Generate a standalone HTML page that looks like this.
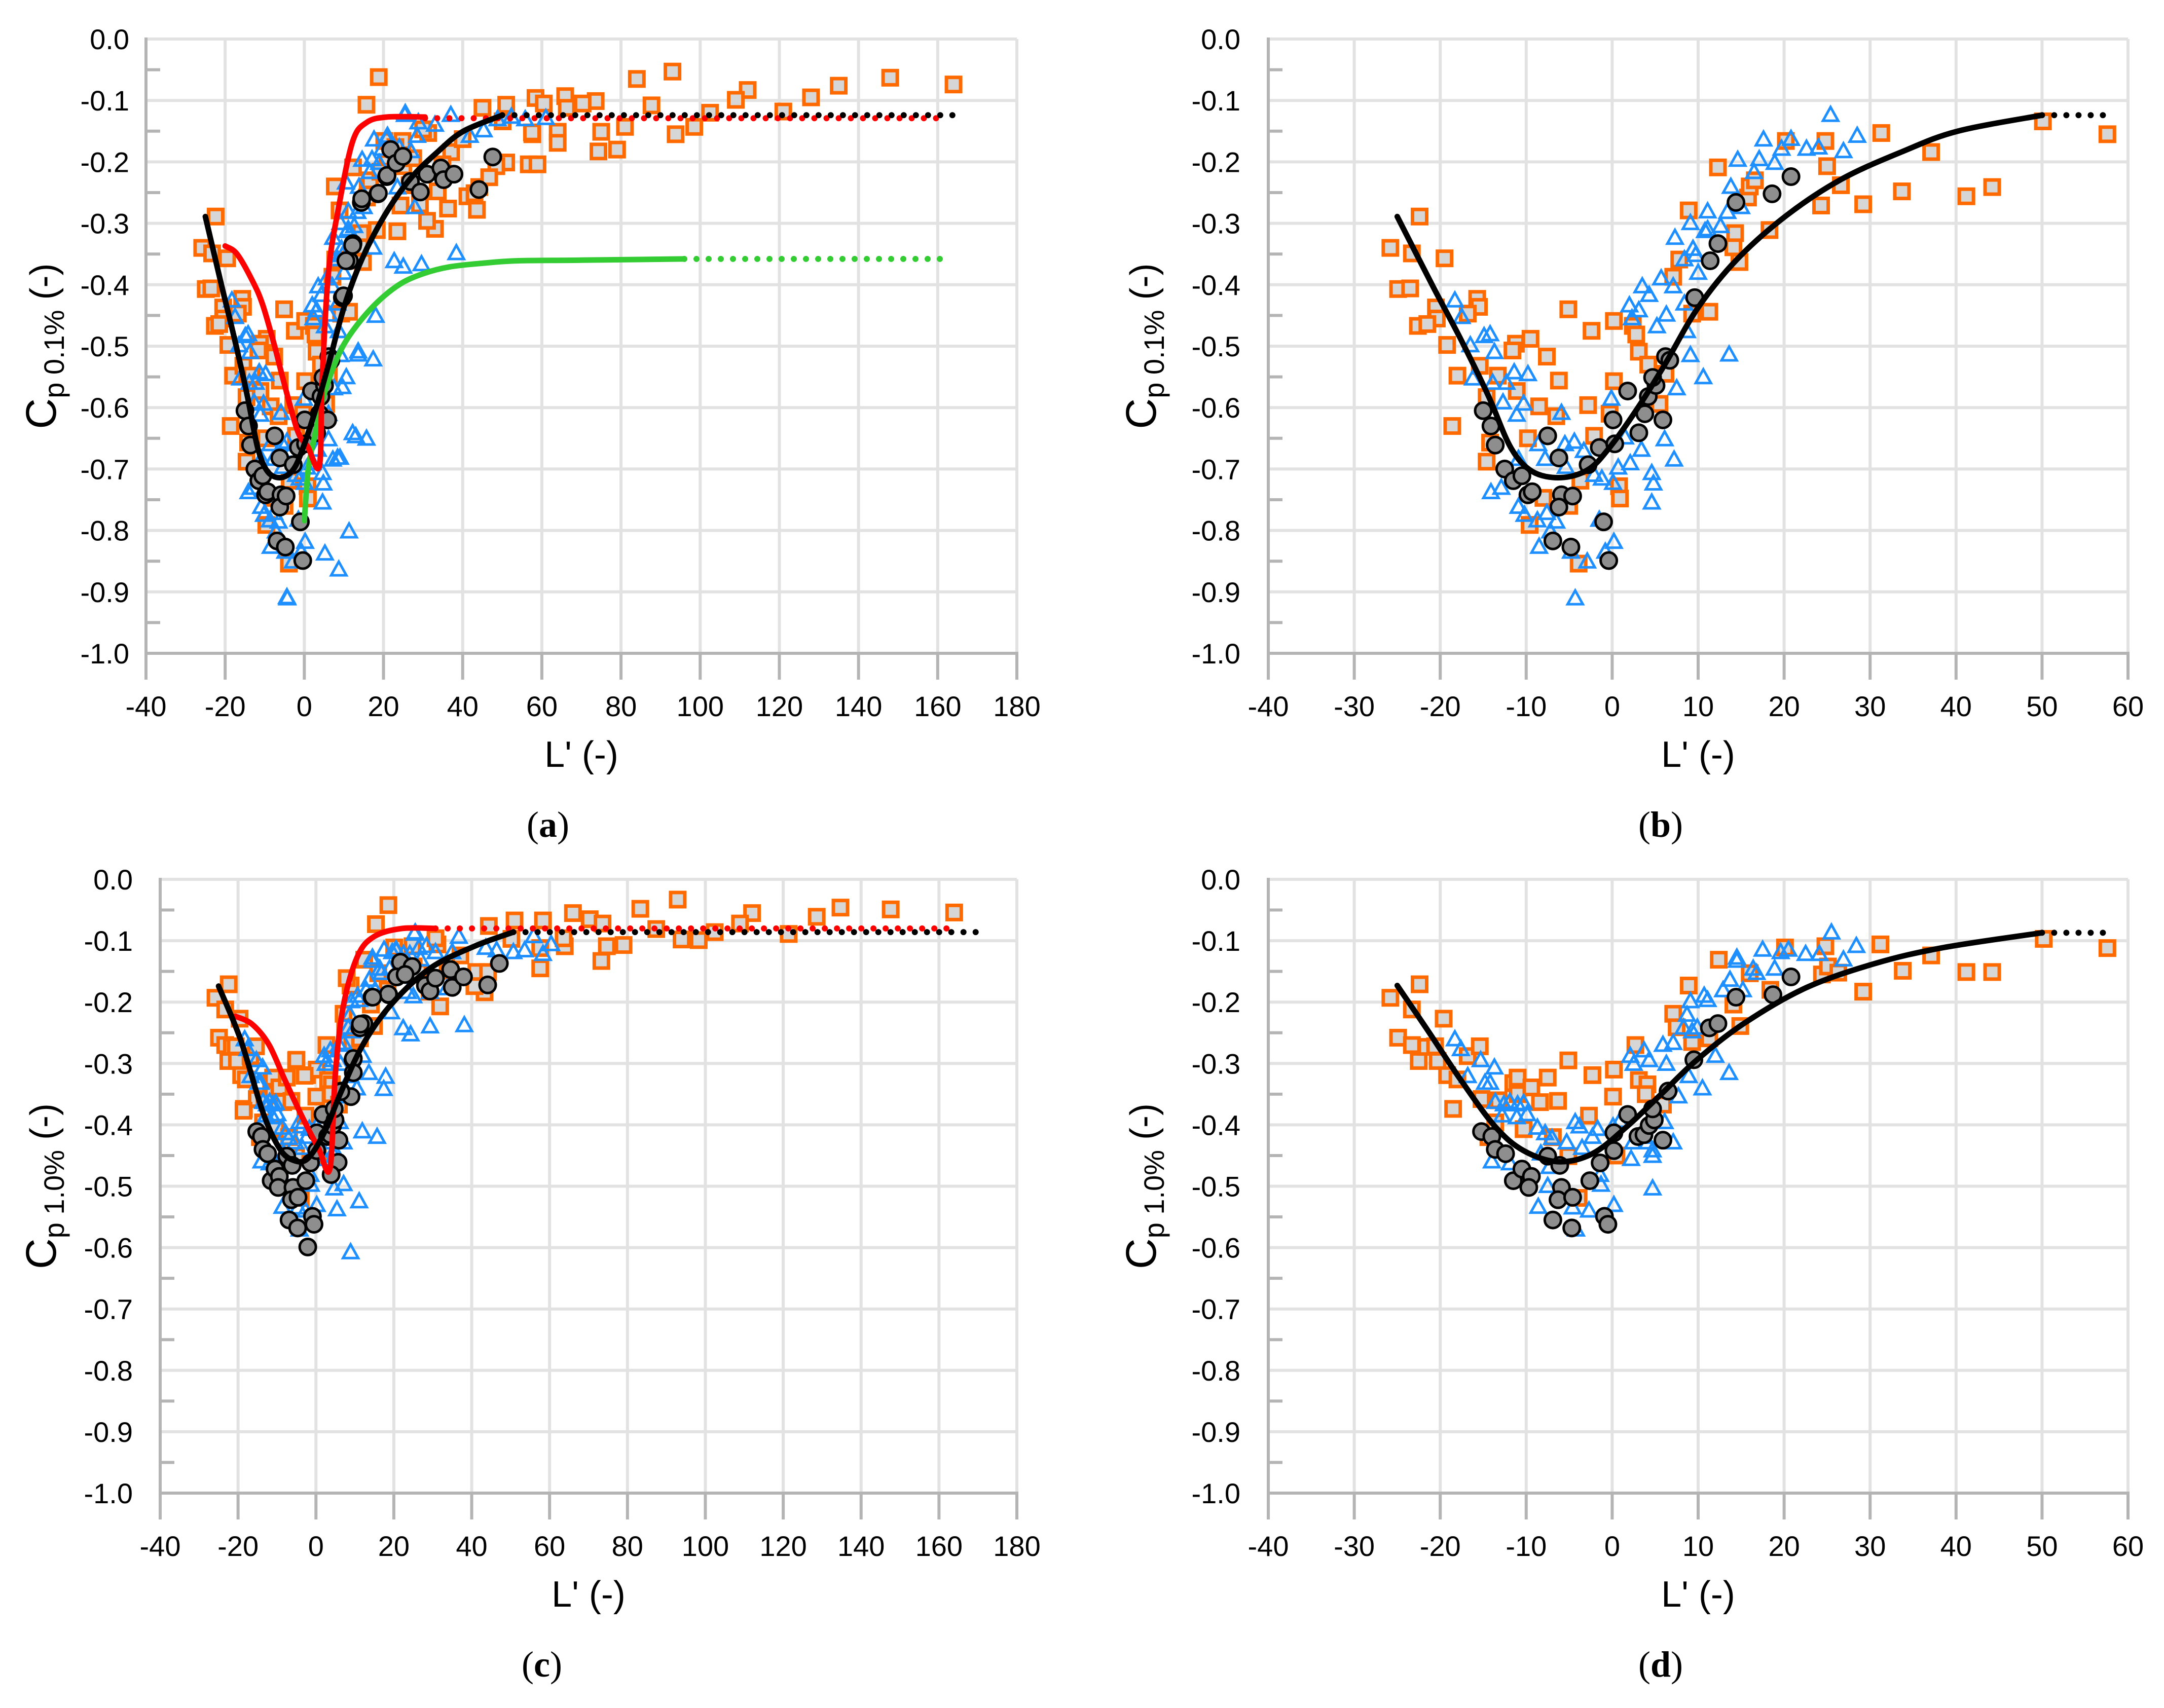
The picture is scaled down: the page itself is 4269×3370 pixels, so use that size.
<!DOCTYPE html>
<html><head><meta charset="utf-8"><title>Cp vs L' charts</title>
<style>
html,body{margin:0;padding:0;background:#fff;}
svg{display:block;}
text{fill:#000;}
</style></head>
<body>
<svg id="fig" xmlns="http://www.w3.org/2000/svg" width="4269" height="3370" viewBox="0 0 4269 3370"></svg>
<script>
// ---------- tick labels ----------
const yTickVals = [0,-0.1,-0.2,-0.3,-0.4,-0.5,-0.6,-0.7,-0.8,-0.9,-1.0];
const yTickLabels = ["0.0","-0.1","-0.2","-0.3","-0.4","-0.5","-0.6","-0.7","-0.8","-0.9","-1.0"];
const xTickValsWide = [-40,-20,0,20,40,60,80,100,120,140,160,180];
const xTickLabelsWide = ["-40","-20","0","20","40","60","80","100","120","140","160","180"];
const xTickValsNarrow = [-40,-30,-20,-10,0,10,20,30,40,50,60];
const xTickLabelsNarrow = ["-40","-30","-20","-10","0","10","20","30","40","50","60"];

// ---------- panel (b) data: Cp 0.1% ----------
const bSqX = [-22.4,-25.8,-23.3,-19.5,-24.9,-23.5,-15.7,-15.5,-20.5,-16.8,-20.4,-22.6,-21.5,-5.1,-19.2,-9.5,-11.2,-11.6,-7.6,-2.4,0.2,2.4,2.8,3.1,4.2,6.2,-18.0,-15.4,-13.3,-6.2,0.2,-11.1,-14.6,-8.5,-6.5,-2.8,-0.3,5.5,-18.6,-14.2,-14.6,-9.8,-2.1,-3.7,0.8,0.9,-5.0,-9.6,-3.9,-8.0,8.9,12.3,7.8,7.1,9.3,11.3,14.3,14.1,14.8,15.8,16.0,16.6,18.3,20.2,24.8,25.0,26.6,24.3,29.2,31.3,33.7,37.1,41.2,44.2,50.1,57.6];
const bSqY = [-0.289,-0.340,-0.349,-0.357,-0.407,-0.406,-0.423,-0.436,-0.437,-0.447,-0.455,-0.467,-0.464,-0.440,-0.498,-0.488,-0.496,-0.507,-0.517,-0.475,-0.459,-0.467,-0.481,-0.509,-0.530,-0.545,-0.548,-0.532,-0.548,-0.556,-0.557,-0.573,-0.583,-0.598,-0.614,-0.596,-0.610,-0.594,-0.630,-0.657,-0.688,-0.650,-0.646,-0.719,-0.728,-0.748,-0.760,-0.791,-0.854,-0.747,-0.279,-0.209,-0.359,-0.387,-0.447,-0.444,-0.316,-0.339,-0.363,-0.258,-0.240,-0.230,-0.311,-0.166,-0.166,-0.207,-0.238,-0.271,-0.269,-0.153,-0.248,-0.184,-0.256,-0.241,-0.134,-0.155];
const bTriX = [-18.3,-17.5,-14.9,-14.2,-16.5,-13.7,-16.2,-13.9,-12.3,-11.4,-9.8,-12.7,-11.1,-10.3,-5.9,-8.6,-5.5,-4.4,-3.3,-10.9,-7.8,-5.4,-14.1,-12.9,-10.9,-10.2,-8.7,-7.6,-6.5,-7.2,-8.5,-4.8,-2.9,-0.8,0.2,-1.5,-4.3,-2.1,-1.2,0.1,0.7,2.1,1.5,3.4,4.6,4.8,4.6,7.2,6.1,-0.1,2.0,3.1,2.3,5.2,6.3,3.5,4.3,5.7,7.1,8.4,8.7,9.1,10.6,13.6,7.5,7.3,9.4,9.7,8.4,10.0,9.1,11.1,11.1,10.8,12.6,13.8,13.4,15.0,14.6,16.5,17.1,18.9,17.6,19.7,20.8,22.6,24.0,25.4,26.9,28.5];
const bTriY = [-0.426,-0.453,-0.484,-0.481,-0.499,-0.510,-0.553,-0.560,-0.560,-0.543,-0.546,-0.592,-0.612,-0.594,-0.609,-0.660,-0.660,-0.656,-0.671,-0.684,-0.684,-0.697,-0.738,-0.731,-0.762,-0.775,-0.784,-0.772,-0.786,-0.802,-0.827,-0.835,-0.851,-0.835,-0.819,-0.783,-0.911,-0.710,-0.716,-0.723,-0.698,-0.691,-0.649,-0.669,-0.707,-0.724,-0.755,-0.685,-0.652,-0.586,-0.434,-0.442,-0.455,-0.468,-0.449,-0.403,-0.417,-0.390,-0.403,-0.431,-0.476,-0.515,-0.551,-0.514,-0.569,-0.324,-0.342,-0.352,-0.359,-0.381,-0.300,-0.281,-0.310,-0.313,-0.305,-0.241,-0.282,-0.274,-0.197,-0.217,-0.196,-0.202,-0.164,-0.179,-0.163,-0.179,-0.177,-0.124,-0.183,-0.158];
const bCirX = [-15.0,-14.1,-13.6,-12.5,-11.5,-10.5,-9.8,-9.3,-7.5,-6.2,-5.9,-6.2,-4.6,-6.9,-4.8,-1.0,-0.4,-2.8,-1.5,0.3,0.1,1.8,3.1,3.8,5.9,4.2,5.1,4.7,6.2,6.7,9.6,11.4,12.3,14.4,18.6,20.8];
const bCirY = [-0.605,-0.630,-0.661,-0.700,-0.719,-0.711,-0.742,-0.737,-0.646,-0.682,-0.742,-0.762,-0.744,-0.817,-0.827,-0.786,-0.849,-0.693,-0.665,-0.659,-0.620,-0.573,-0.641,-0.610,-0.620,-0.582,-0.564,-0.551,-0.517,-0.523,-0.421,-0.361,-0.333,-0.266,-0.252,-0.224];
const bCurveX = [-25,-20.8,-17.6,-14.4,-11.8,-9.3,-6,-2.8,-0.3,3,6.2,10,14.5,20.3,26.7,33.8,40.2,50];
const bCurveY = [-0.289,-0.404,-0.489,-0.581,-0.665,-0.704,-0.714,-0.701,-0.665,-0.600,-0.528,-0.437,-0.359,-0.287,-0.228,-0.183,-0.150,-0.124];
const bDotX = [50,58];
const bDotY = [-0.124,-0.124];

// ---------- panel (a) extra data (plus all of panel b) ----------
const aSqX = [18.8,15.7,7.7,84,93,148,164,135,128,112,109,121,102.5,98.5,93.8,87.7,81,79,74.3,75,73.6,70.3,65.9,66.3,64,64,58.4,60.5,57.5,56.7,58.9,51,48.5,45,51,43,43.6,36.3,33,31,34.9,30,23,21,23.5,19.2,27.5,46.7,40];
const aSqY = [-0.062,-0.107,-0.240,-0.065,-0.053,-0.063,-0.074,-0.076,-0.095,-0.083,-0.099,-0.118,-0.120,-0.143,-0.155,-0.108,-0.143,-0.180,-0.183,-0.151,-0.101,-0.105,-0.093,-0.112,-0.151,-0.169,-0.096,-0.105,-0.152,-0.204,-0.204,-0.201,-0.207,-0.112,-0.107,-0.251,-0.278,-0.276,-0.309,-0.296,-0.204,-0.147,-0.176,-0.202,-0.313,-0.216,-0.194,-0.225,-0.163];
const aTriX = [25.5,37,29.6,38.4,25,22.7,17.4,18,17.4,13.6,12.2,13,15.7,9,8.4,11.3,8.7,52.3,48.8,45.3,55.8,61,41.8,33,28.8,10.5,21,23.5,27.9,9.6,6.1,5.2,-4.4];
const aTriY = [-0.121,-0.124,-0.367,-0.349,-0.371,-0.362,-0.340,-0.451,-0.522,-0.509,-0.642,-0.647,-0.651,-0.682,-0.682,-0.802,-0.864,-0.127,-0.131,-0.149,-0.131,-0.129,-0.158,-0.140,-0.136,-0.234,-0.158,-0.242,-0.274,-0.567,-0.611,-0.838,-0.909];
const aCirX = [14.5,18.7,20.9,21.8,23.2,24.9,26.8,29.3,31,34.5,35.2,37.8,44.1,47.6,10.5,12.2,9.9];
const aCirY = [-0.260,-0.251,-0.222,-0.180,-0.202,-0.191,-0.232,-0.249,-0.220,-0.210,-0.229,-0.220,-0.245,-0.192,-0.361,-0.336,-0.418];
const aBlackDotX = [50,164];
const aBlackDotY = [-0.124,-0.124];
const aRedX = [-20,-17,-13,-10.5,-7.5,-5.2,-1.7,0.9,3.8,4.5,6.1,8.7,12.2,15.7,20.9,30.5];
const aRedY = [-0.337,-0.350,-0.395,-0.433,-0.500,-0.558,-0.638,-0.664,-0.695,-0.558,-0.380,-0.273,-0.167,-0.136,-0.127,-0.127];
const aRedDotX = [30.5,162];
const aRedDotY = [-0.129,-0.129];
const aGreenX = [0,1,2.6,4.5,7,10,14,19,24.4,30,36.6,45,54,70,96];
const aGreenY = [-0.784,-0.700,-0.647,-0.590,-0.540,-0.497,-0.460,-0.425,-0.398,-0.382,-0.371,-0.365,-0.361,-0.360,-0.358];
const aGreenDotX = [96,162];
const aGreenDotY = [-0.358,-0.358];

// ---------- panel (d) data: Cp 1.0% ----------
const dSqX = [-25.8,-22.4,-24.9,-23.3,-23.3,-22.5,-21.6,-20.6,-20.3,-19.6,-19.2,-18.0,-18.5,-16.8,-15.4,-15.2,-13.2,-13.6,-14.4,-11.5,-11.0,-11.0,-9.4,-7.5,-8.4,-6.3,-5.1,-2.3,-2.7,0.2,0.1,0.5,-3.9,-5.1,-10.3,-6.9,2.7,3.1,4.1,3.9,5.9,7.1,7.5,8.9,9.3,11.3,12.4,14.1,14.9,16.0,18.4,20.1,24.4,24.8,25.1,26.3,29.2,31.2,33.8,37.1,41.2,44.2,50.2,57.6];
const dSqY = [-0.193,-0.171,-0.258,-0.212,-0.270,-0.296,-0.273,-0.272,-0.296,-0.227,-0.319,-0.326,-0.374,-0.288,-0.272,-0.358,-0.360,-0.396,-0.420,-0.332,-0.323,-0.350,-0.339,-0.323,-0.363,-0.361,-0.295,-0.319,-0.385,-0.310,-0.354,-0.450,-0.519,-0.451,-0.407,-0.420,-0.270,-0.327,-0.334,-0.350,-0.367,-0.219,-0.241,-0.173,-0.265,-0.259,-0.131,-0.204,-0.239,-0.153,-0.180,-0.111,-0.155,-0.109,-0.142,-0.152,-0.183,-0.106,-0.149,-0.124,-0.151,-0.151,-0.097,-0.112];
const dTriX = [-18.3,-17.6,-16.8,-15.3,-14.8,-13.7,-14.2,-13.6,-12.6,-11.9,-12.8,-11.0,-10.3,-11.1,-9.9,-8.7,-7.8,-7.0,-14.0,-11.9,-8.3,-7.3,-8.6,-7.5,-5.3,-4.3,-3.8,-3.5,-2.3,-1.7,-1.4,-1.3,-2.7,-4.6,-4.2,0.2,0.1,0.9,2.4,2.2,3.4,4.1,4.7,4.7,6.1,7.1,4.7,2.1,2.5,3.7,4.3,5.9,7.1,6.3,7.7,8.3,8.7,9.1,9.3,9.9,8.9,10.5,10.7,11.1,12.0,13.6,12.9,13.7,14.5,14.5,15.2,16.4,16.8,17.5,18.9,19.6,20.5,22.5,24.1,25.5,26.9,28.4];
const dTriY = [-0.261,-0.277,-0.321,-0.295,-0.332,-0.307,-0.332,-0.363,-0.367,-0.363,-0.385,-0.367,-0.365,-0.388,-0.383,-0.405,-0.414,-0.422,-0.460,-0.463,-0.447,-0.469,-0.534,-0.500,-0.429,-0.396,-0.403,-0.438,-0.420,-0.407,-0.482,-0.498,-0.540,-0.535,-0.571,-0.531,-0.403,-0.394,-0.429,-0.456,-0.420,-0.429,-0.451,-0.442,-0.396,-0.429,-0.504,-0.288,-0.301,-0.279,-0.295,-0.270,-0.267,-0.301,-0.354,-0.242,-0.221,-0.199,-0.248,-0.242,-0.321,-0.341,-0.190,-0.197,-0.288,-0.316,-0.181,-0.164,-0.128,-0.133,-0.181,-0.146,-0.153,-0.115,-0.146,-0.119,-0.115,-0.122,-0.122,-0.087,-0.131,-0.109];
const dCirX = [-15.2,-14.0,-13.6,-12.4,-11.5,-10.5,-9.4,-9.7,-7.5,-6.1,-5.9,-6.3,-4.6,-6.9,-4.7,-1.4,-2.6,-0.9,-0.5,0.2,0.2,1.8,3.0,3.7,4.3,4.9,4.7,5.9,6.5,9.5,11.3,12.3,14.4,18.7,20.8];
const dCirY = [-0.411,-0.419,-0.440,-0.447,-0.491,-0.472,-0.484,-0.502,-0.451,-0.466,-0.502,-0.522,-0.518,-0.555,-0.568,-0.462,-0.491,-0.549,-0.562,-0.413,-0.442,-0.383,-0.419,-0.416,-0.401,-0.392,-0.374,-0.425,-0.345,-0.294,-0.242,-0.235,-0.192,-0.188,-0.159];
const dCurveX = [-25,-21.6,-17.6,-13.6,-10.3,-6.3,-2.3,1.7,5.7,9.7,15.3,22.5,30.6,38.6,50];
const dCurveY = [-0.173,-0.243,-0.327,-0.403,-0.442,-0.460,-0.447,-0.403,-0.350,-0.296,-0.235,-0.177,-0.137,-0.111,-0.087];
const dDotX = [50,58];
const dDotY = [-0.087,-0.087];

// ---------- panel (c) extra data (plus all of panel d) ----------
const cSqX = [18.6,15.4,51,58.3,66,70.3,73.6,83.3,92.9,112,128.6,134.7,147.6,163.9,108.9,121.4,102.4,98.3,93.9,87.4,79,74.7,73.3,63.9,63.6,57.6,44.4,43.3,31.9,30.7,7.9,-5,-2.9,-18.6,40.7];
const cSqY = [-0.042,-0.073,-0.067,-0.067,-0.055,-0.065,-0.072,-0.048,-0.033,-0.055,-0.061,-0.046,-0.049,-0.054,-0.072,-0.089,-0.086,-0.099,-0.098,-0.081,-0.107,-0.109,-0.133,-0.109,-0.096,-0.145,-0.076,-0.184,-0.207,-0.096,-0.161,-0.294,-0.320,-0.377,-0.174];
const cTriX = [25.3,36.7,55.9,60.4,58.3,29.3,38.1,24.3,22.4,17.9,17.4,15.7,11.9,11.1,8.9,7.1,5.4,43.6,46.4,50.7,53.6,35,30.7,26.4,20.7,23.6,19.3,25,29.3,33.6];
const cTriY = [-0.089,-0.094,-0.093,-0.106,-0.122,-0.240,-0.238,-0.253,-0.243,-0.322,-0.342,-0.420,-0.411,-0.525,-0.608,-0.497,-0.538,-0.112,-0.116,-0.119,-0.116,-0.119,-0.119,-0.112,-0.116,-0.184,-0.217,-0.191,-0.184,-0.178];
const cCirX = [21.7,24.7,20.7,22.9,18.6,14.6,28.1,29.3,30.7,34.6,35,37.9,44.1,47.1,11.4,9.6,9.6,9,6.4,5.7,3.9,-2.1];
const cCirY = [-0.135,-0.142,-0.159,-0.155,-0.187,-0.192,-0.173,-0.182,-0.161,-0.147,-0.176,-0.159,-0.172,-0.137,-0.236,-0.292,-0.315,-0.354,-0.346,-0.461,-0.481,-0.599];
const cCurveX = [-25,-19.3,-13.6,-9.3,-5.7,-2.1,2.1,6.4,12.1,19.3,29.3,40.7,50.7];
const cCurveY = [-0.174,-0.262,-0.380,-0.439,-0.458,-0.455,-0.413,-0.347,-0.269,-0.204,-0.145,-0.109,-0.086];
const cDotX = [50.7,170];
const cDotY = [-0.086,-0.086];
const cRedX = [-20.7,-16.4,-12.1,-7.9,-3.6,0.7,3.6,5,7.1,10.7,15,22.1,30.7];
const cRedY = [-0.223,-0.236,-0.269,-0.328,-0.386,-0.439,-0.471,-0.315,-0.204,-0.125,-0.093,-0.080,-0.080];
const cRedDotX = [30.7,163];
const cRedDotY = [-0.080,-0.080];

// ---------- rendering ----------
const NS = "http://www.w3.org/2000/svg";
const svg = document.getElementById("fig");
const SANS = "font-family:'Liberation Sans',sans-serif";
const SERIF = "font-family:'Liberation Serif',serif";
function mk(tag, attrs, parent) {
  const e = document.createElementNS(NS, tag);
  for (const k in attrs) e.setAttribute(k, attrs[k]);
  (parent || svg).appendChild(e);
  return e;
}
function cat(a, b) { return a.concat(b); }
function smoothPath(pts) {
  if (pts.length < 3) return pts.map((p, i) => (i ? "L" : "M") + p[0].toFixed(1) + "," + p[1].toFixed(1)).join(" ");
  let d = "M" + pts[0][0].toFixed(1) + "," + pts[0][1].toFixed(1);
  for (let i = 0; i < pts.length - 1; i++) {
    const p0 = pts[Math.max(0, i - 1)], p1 = pts[i], p2 = pts[i + 1], p3 = pts[Math.min(pts.length - 1, i + 2)];
    const c1x = p1[0] + (p2[0] - p0[0]) / 6, c1y = p1[1] + (p2[1] - p0[1]) / 6;
    const c2x = p2[0] - (p3[0] - p1[0]) / 6, c2y = p2[1] - (p3[1] - p1[1]) / 6;
    d += " C" + c1x.toFixed(1) + "," + c1y.toFixed(1) + " " + c2x.toFixed(1) + "," + c2y.toFixed(1) + " " + p2[0].toFixed(1) + "," + p2[1].toFixed(1);
  }
  return d;
}

function drawPanel(P) {
  const g = mk("g", {});
  
  
  const sx = v => P.x0 + (v - P.xmin) / (P.xmax - P.xmin) * (P.x1 - P.x0);
  const sy = v => P.y0 + (0 - v) / 1.0 * (P.y1 - P.y0);
  P.xticks.forEach((t, i) => {
    if (i === 0) return;
    const l = mk("line", {x1: sx(t), x2: sx(t), y1: P.y0, y2: P.y1, stroke: "#e2e2e2", "stroke-width": 6}, g);
    
    
  });
  yTickVals.forEach((t, i) => {
    if (i === yTickVals.length - 1) return;
    const l = mk("line", {x1: P.x0, x2: P.x1, y1: sy(t), y2: sy(t), stroke: "#e2e2e2", "stroke-width": 6}, g);
    
    
  });
  for (let k = 0; k < 10; k++) {
    const v = -0.05 - 0.1 * k;
    const l = mk("line", {x1: P.x0, x2: P.x0 + 28, y1: sy(v), y2: sy(v), stroke: "#b4b4b4", "stroke-width": 6}, g);
    
    
  }
  P.xticks.forEach(t => {
    const l = mk("line", {x1: sx(t), x2: sx(t), y1: P.y1, y2: P.y1 + 52, stroke: "#b4b4b4", "stroke-width": 6}, g);
    
    
  });
  const ya = mk("line", {x1: P.x0, x2: P.x0, y1: P.y0 - 3, y2: P.y1 + 3, stroke: "#b4b4b4", "stroke-width": 6}, g);
  
  
  const xa = mk("line", {x1: P.x0 - 3, x2: P.x1 + 3, y1: P.y1, y2: P.y1, stroke: "#b4b4b4", "stroke-width": 6}, g);
  
  
  yTickVals.forEach((t, i) => {
    const tx = mk("text", {x: P.x0 - P.labGap, y: sy(t) + 20, "font-size": 56, "text-anchor": "end", style: SANS}, g);
    tx.textContent = yTickLabels[i];
    
    
  });
  P.xticks.forEach((t, i) => {
    const tx = mk("text", {x: sx(t), y: P.y1 + 124, "font-size": 56, "text-anchor": "middle", style: SANS}, g);
    tx.textContent = P.xlabels[i];
    
    
  });
  const xt = mk("text", {x: (P.x0 + P.x1) / 2, y: P.y1 + 224, "font-size": 72, "text-anchor": "middle", style: SANS}, g);
  xt.textContent = "L' (-)";
  
  
  const cy = (P.y0 + P.y1) / 2;
  const yt = mk("text", {x: 0, y: 0, "text-anchor": "middle", style: SANS, transform: "translate(" + (P.titleX) + "," + cy + ") rotate(-90)"}, g);
  
  
  const t1 = mk("tspan", {"font-size": 84}, yt); t1.textContent = "C";
  const t2 = mk("tspan", {"font-size": 56, dy: 16}, yt); t2.textContent = "p " + P.sub;
  const t3 = mk("tspan", {"font-size": 72, dy: -16}, yt); t3.textContent = " (-)";
  const pl = mk("text", {x: P.labelX, y: P.y1 + 362, "font-size": 72, "text-anchor": "middle", style: SERIF}, g);
  
  
  const p1 = mk("tspan", {}, pl); p1.textContent = "(";
  const p2 = mk("tspan", {"font-weight": "bold"}, pl); p2.textContent = P.id;
  const p3 = mk("tspan", {}, pl); p3.textContent = ")";

  P.sqX.forEach((v, i) => {
    const x = sx(v), y = sy(P.sqY[i]);
    const r = mk("rect", {x: x - 14, y: y - 14, width: 28, height: 28, fill: "#d6d6d6", stroke: "#ff6a00", "stroke-width": 7}, g);
    
    
  });
  P.triX.forEach((v, i) => {
    const x = sx(v), y = sy(P.triY[i]);
    const t = mk("polygon", {points: (x) + "," + (y - 16) + " " + (x + 15) + "," + (y + 11) + " " + (x - 15) + "," + (y + 11), fill: "none", stroke: "#1e8fff", "stroke-width": 5}, g);
    
    
  });
  P.cirX.forEach((v, i) => {
    const c = mk("circle", {cx: sx(v), cy: sy(P.cirY[i]), r: 16, fill: "#8e8e8e", stroke: "#000", "stroke-width": 5}, g);
    
    
  });
  function curve(xs, ys, color, dotted, name) {
    const pts = xs.map((v, i) => [sx(v), sy(ys[i])]);
    const attrs = {d: smoothPath(pts), fill: "none", stroke: color, "stroke-width": dotted ? 12 : 11, "stroke-linecap": "round", "stroke-linejoin": "round"};
    if (dotted) attrs["stroke-dasharray"] = "0 24";
    const p = mk("path", attrs, g);
    
    
  }
  P.curves.forEach(c => curve(c[0], c[1], c[2], c[3], c[4]));
}

drawPanel({id: "a", x0: 288, x1: 2006, y0: 77, y1: 1289, xmin: -40, xmax: 180,
  xticks: xTickValsWide, xlabels: xTickLabelsWide, labGap: 33, titleX: 110, labelX: 1081, sub: "0.1%",
  sqX: cat(bSqX, aSqX), sqY: cat(bSqY, aSqY), triX: cat(bTriX, aTriX), triY: cat(bTriY, aTriY),
  cirX: cat(bCirX, aCirX), cirY: cat(bCirY, aCirY),
  curves: [[aGreenX, aGreenY, "#33cc33", false, "green-curve"], [aGreenDotX, aGreenDotY, "#33cc33", true, "green-dotted-extension"],
           [aRedX, aRedY, "#ff0000", false, "red-curve"], [aRedDotX, aRedDotY, "#ff0000", true, "red-dotted-extension"],
           [bCurveX, bCurveY, "#000", false, "black-curve"], [aBlackDotX, aBlackDotY, "#000", true, "black-dotted-extension"]]});

drawPanel({id: "b", x0: 2502, x1: 4198, y0: 77, y1: 1289, xmin: -40, xmax: 60,
  xticks: xTickValsNarrow, xlabels: xTickLabelsNarrow, labGap: 55, titleX: 2280, labelX: 3276, sub: "0.1%",
  sqX: bSqX, sqY: bSqY, triX: bTriX, triY: bTriY, cirX: bCirX, cirY: bCirY,
  curves: [[bCurveX, bCurveY, "#000", false, "black-curve"], [bDotX, bDotY, "#000", true, "black-dotted-extension"]]});

drawPanel({id: "c", x0: 316, x1: 2006, y0: 1735, y1: 2946, xmin: -40, xmax: 180,
  xticks: xTickValsWide, xlabels: xTickLabelsWide, labGap: 54, titleX: 110, labelX: 1069, sub: "1.0%",
  sqX: cat(dSqX, cSqX), sqY: cat(dSqY, cSqY), triX: cat(dTriX, cTriX), triY: cat(dTriY, cTriY),
  cirX: cat(dCirX, cCirX), cirY: cat(dCirY, cCirY),
  curves: [[cRedX, cRedY, "#ff0000", false, "red-curve"], [cRedDotX, cRedDotY, "#ff0000", true, "red-dotted-extension"],
           [cCurveX, cCurveY, "#000", false, "black-curve"], [cDotX, cDotY, "#000", true, "black-dotted-extension"]]});

drawPanel({id: "d", x0: 2502, x1: 4198, y0: 1735, y1: 2946, xmin: -40, xmax: 60,
  xticks: xTickValsNarrow, xlabels: xTickLabelsNarrow, labGap: 55, titleX: 2280, labelX: 3276, sub: "1.0%",
  sqX: dSqX, sqY: dSqY, triX: dTriX, triY: dTriY, cirX: dCirX, cirY: dCirY,
  curves: [[dCurveX, dCurveY, "#000", false, "black-curve"], [dDotX, dDotY, "#000", true, "black-dotted-extension"]]});
</script>
</body></html>
